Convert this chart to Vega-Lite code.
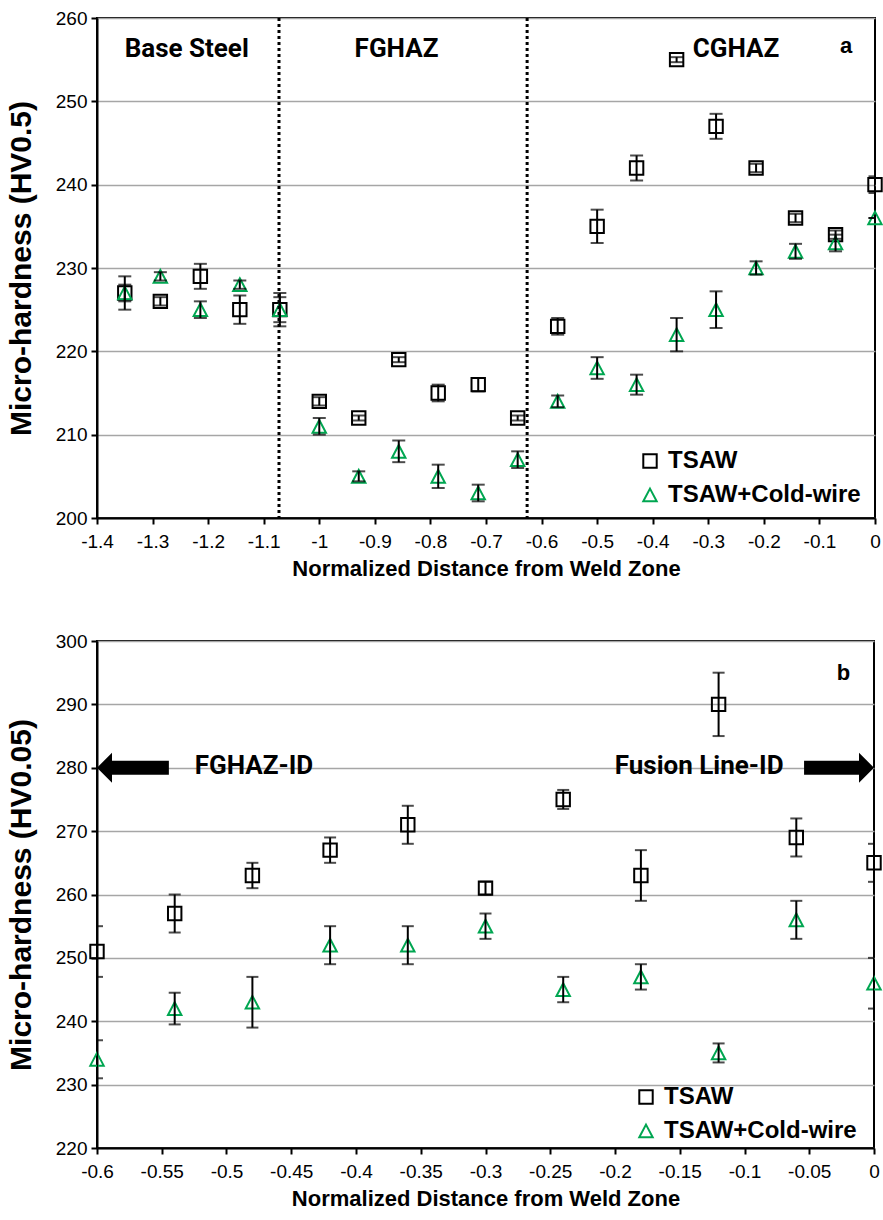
{
  "$schema": "https://vega.github.io/schema/vega-lite/v6.json",
  "background": "white",
  "padding": {"left": 5, "top": 8, "right": 5, "bottom": 5},
  "bounds": "flush",
  "spacing": 123,
  "config": {
    "font": "Liberation Sans",
    "view": {"stroke": "black", "strokeWidth": 2},
    "axis": {
      "domainColor": "black", "domainWidth": 2,
      "tickColor": "black", "tickWidth": 2, "tickSize": 6,
      "labelFont": "Liberation Sans", "labelFontSize": 19, "labelColor": "black", "labelPadding": 4,
      "titleFont": "Liberation Sans", "titleFontSize": 22, "titleFontWeight": "bold", "titleColor": "black",
      "gridColor": "#a6a6a6", "gridWidth": 1.5,
      "labelOverlap": false, "labelFlush": false
    },
    "axisX": {"grid": false, "labelPadding": 8, "titlePadding": 7},
    "axisY": {"grid": true, "titlePadding": 19, "titleFontSize": 30},
    "legend": {
      "orient": "none", "title": null, "padding": 0, "labelLimit": 0,
      "labelFont": "Liberation Sans", "labelFontSize": 24, "labelFontWeight": "bold", "labelColor": "black",
      "labelOffset": 6, "symbolStrokeWidth": 2, "symbolSize": 180, "rowPadding": 10
    }
  },
  "datasets": {
    "top": [
      {"distance": -1.35, "hardness": 227, "err": 2, "series": "TSAW"},
      {"distance": -1.286, "hardness": 226, "err": 0.5, "series": "TSAW"},
      {"distance": -1.214, "hardness": 229, "err": 1.5, "series": "TSAW"},
      {"distance": -1.143, "hardness": 225, "err": 1.7, "series": "TSAW"},
      {"distance": -1.071, "hardness": 225, "err": 2, "series": "TSAW"},
      {"distance": -1.0, "hardness": 214, "err": 0.5, "series": "TSAW"},
      {"distance": -0.929, "hardness": 212, "err": 0.3, "series": "TSAW"},
      {"distance": -0.857, "hardness": 219, "err": 0.3, "series": "TSAW"},
      {"distance": -0.786, "hardness": 215, "err": 1, "series": "TSAW"},
      {"distance": -0.714, "hardness": 216, "err": 0.8, "series": "TSAW"},
      {"distance": -0.643, "hardness": 212, "err": 0.3, "series": "TSAW"},
      {"distance": -0.571, "hardness": 223, "err": 1, "series": "TSAW"},
      {"distance": -0.5, "hardness": 235, "err": 2, "series": "TSAW"},
      {"distance": -0.429, "hardness": 242, "err": 1.5, "series": "TSAW"},
      {"distance": -0.357, "hardness": 255, "err": 0.3, "series": "TSAW"},
      {"distance": -0.286, "hardness": 247, "err": 1.5, "series": "TSAW"},
      {"distance": -0.214, "hardness": 242, "err": 0.5, "series": "TSAW"},
      {"distance": -0.143, "hardness": 236, "err": 0.5, "series": "TSAW"},
      {"distance": -0.071, "hardness": 234, "err": 0.5, "series": "TSAW"},
      {"distance": 0, "hardness": 240, "err": 1, "series": "TSAW"},
      {"distance": -1.35, "hardness": 227, "err": 1, "series": "TSAW+Cold-wire"},
      {"distance": -1.286, "hardness": 229, "err": 0.5, "series": "TSAW+Cold-wire"},
      {"distance": -1.214, "hardness": 225, "err": 1, "series": "TSAW+Cold-wire"},
      {"distance": -1.143, "hardness": 228, "err": 0.5, "series": "TSAW+Cold-wire"},
      {"distance": -1.071, "hardness": 225, "err": 1.5, "series": "TSAW+Cold-wire"},
      {"distance": -1.0, "hardness": 211, "err": 1, "series": "TSAW+Cold-wire"},
      {"distance": -0.929, "hardness": 205, "err": 0.6, "series": "TSAW+Cold-wire"},
      {"distance": -0.857, "hardness": 208, "err": 1.3, "series": "TSAW+Cold-wire"},
      {"distance": -0.786, "hardness": 205, "err": 1.4, "series": "TSAW+Cold-wire"},
      {"distance": -0.714, "hardness": 203, "err": 1, "series": "TSAW+Cold-wire"},
      {"distance": -0.643, "hardness": 207, "err": 1, "series": "TSAW+Cold-wire"},
      {"distance": -0.571, "hardness": 214, "err": 0.7, "series": "TSAW+Cold-wire"},
      {"distance": -0.5, "hardness": 218, "err": 1.3, "series": "TSAW+Cold-wire"},
      {"distance": -0.429, "hardness": 216, "err": 1.2, "series": "TSAW+Cold-wire"},
      {"distance": -0.357, "hardness": 222, "err": 2, "series": "TSAW+Cold-wire"},
      {"distance": -0.286, "hardness": 225, "err": 2.2, "series": "TSAW+Cold-wire"},
      {"distance": -0.214, "hardness": 230, "err": 0.8, "series": "TSAW+Cold-wire"},
      {"distance": -0.143, "hardness": 232, "err": 0.9, "series": "TSAW+Cold-wire"},
      {"distance": -0.071, "hardness": 233, "err": 1, "series": "TSAW+Cold-wire"},
      {"distance": 0, "hardness": 236, "err": 0, "series": "TSAW+Cold-wire"}
    ],
    "bottom": [
      {"distance": -0.6, "hardness": 251, "err": 4, "series": "TSAW"},
      {"distance": -0.54, "hardness": 257, "err": 3, "series": "TSAW"},
      {"distance": -0.48, "hardness": 263, "err": 2, "series": "TSAW"},
      {"distance": -0.42, "hardness": 267, "err": 2, "series": "TSAW"},
      {"distance": -0.36, "hardness": 271, "err": 3, "series": "TSAW"},
      {"distance": -0.3, "hardness": 261, "err": 1, "series": "TSAW"},
      {"distance": -0.24, "hardness": 275, "err": 1.5, "series": "TSAW"},
      {"distance": -0.18, "hardness": 263, "err": 4, "series": "TSAW"},
      {"distance": -0.12, "hardness": 290, "err": 5, "series": "TSAW"},
      {"distance": -0.06, "hardness": 269, "err": 3, "series": "TSAW"},
      {"distance": 0, "hardness": 265, "err": 3, "series": "TSAW"},
      {"distance": -0.6, "hardness": 234, "err": 3, "series": "TSAW+Cold-wire"},
      {"distance": -0.54, "hardness": 242, "err": 2.5, "series": "TSAW+Cold-wire"},
      {"distance": -0.48, "hardness": 243, "err": 4, "series": "TSAW+Cold-wire"},
      {"distance": -0.42, "hardness": 252, "err": 3, "series": "TSAW+Cold-wire"},
      {"distance": -0.36, "hardness": 252, "err": 3, "series": "TSAW+Cold-wire"},
      {"distance": -0.3, "hardness": 255, "err": 2, "series": "TSAW+Cold-wire"},
      {"distance": -0.24, "hardness": 245, "err": 2, "series": "TSAW+Cold-wire"},
      {"distance": -0.18, "hardness": 247, "err": 2, "series": "TSAW+Cold-wire"},
      {"distance": -0.12, "hardness": 235, "err": 1.5, "series": "TSAW+Cold-wire"},
      {"distance": -0.06, "hardness": 256, "err": 3, "series": "TSAW+Cold-wire"},
      {"distance": 0, "hardness": 246, "err": 4, "series": "TSAW+Cold-wire"}
    ],
    "zones": [{"distance": -1.0725}, {"distance": -0.626}],
    "topLabels": [
      {"distance": -1.2386, "hardness": 256.3, "label": "Base Steel"},
      {"distance": -0.861, "hardness": 256.3, "label": "FGHAZ"},
      {"distance": -0.25, "hardness": 256.3, "label": "CGHAZ"}
    ],
    "topTag": [{"distance": -0.052, "hardness": 256.6, "label": "a"}],
    "bottomLabels": [
      {"distance": -0.4788, "hardness": 280.2, "label": "FGHAZ-ID"},
      {"distance": -0.135, "hardness": 280.2, "label": "Fusion Line-ID"}
    ],
    "bottomTag": [{"distance": -0.0236, "hardness": 294.9, "label": "b"}],
    "arrowBodies": [
      {"distance": -0.594, "distance2": -0.5445, "hardness": 280},
      {"distance": -0.054, "distance2": -0.006, "hardness": 280}
    ],
    "leftHead": [{"distance": -0.5942, "hardness": 280}],
    "rightHead": [{"distance": -0.0058, "hardness": 280}]
  },
  "vconcat": [
    {
      "width": 778,
      "height": 500,
      "layer": [
        {
          "data": {"name": "top"},
          "mark": {"type": "point", "filled": false, "strokeWidth": 2, "size": 180, "opacity": 1},
          "encoding": {
            "x": {"field": "distance", "type": "quantitative", "title": "Normalized Distance from Weld Zone",
              "scale": {"domain": [-1.4, 0], "nice": false, "zero": false},
              "axis": {"values": [-1.4, -1.3, -1.2, -1.1, -1.0, -0.9, -0.8, -0.7, -0.6, -0.5, -0.4, -0.3, -0.2, -0.1, 0], "labelExpr": "'' + datum.value"}},
            "y": {"field": "hardness", "type": "quantitative", "title": "Micro-hardness (HV0.5)",
              "scale": {"domain": [200, 260], "nice": false, "zero": false},
              "axis": {"values": [200, 210, 220, 230, 240, 250, 260]}},
            "color": {"field": "series", "type": "nominal",
              "scale": {"domain": ["TSAW", "TSAW+Cold-wire"], "range": ["black", "#00A651"]},
              "legend": {"legendX": 541, "legendY": 431}},
            "shape": {"field": "series", "type": "nominal",
              "scale": {"domain": ["TSAW", "TSAW+Cold-wire"], "range": ["square", "M0,-0.95L1,0.95L-1,0.95Z"]},
              "legend": {"legendX": 541, "legendY": 431}}
          }
        },
        {
          "data": {"name": "top"},
          "mark": {"type": "errorbar", "color": "black", "clip": true,
            "ticks": {"size": 13, "thickness": 2, "color": "black"},
            "rule": {"strokeWidth": 2, "color": "black"}},
          "encoding": {
            "x": {"field": "distance", "type": "quantitative", "title": "Normalized Distance from Weld Zone"},
            "y": {"field": "hardness", "type": "quantitative", "title": "Micro-hardness (HV0.5)"},
            "yError": {"field": "err"}
          }
        },
        {
          "data": {"name": "zones"},
          "mark": {"type": "rule", "color": "black", "strokeWidth": 3, "strokeDash": [3, 3]},
          "encoding": {
            "x": {"field": "distance", "type": "quantitative", "title": "Normalized Distance from Weld Zone"}
          }
        },
        {
          "data": {"name": "topLabels"},
          "mark": {"type": "text", "font": "Roboto", "fontSize": 26, "fontWeight": "bold", "color": "black", "align": "center", "baseline": "middle"},
          "encoding": {
            "x": {"field": "distance", "type": "quantitative", "title": "Normalized Distance from Weld Zone"},
            "y": {"field": "hardness", "type": "quantitative", "title": "Micro-hardness (HV0.5)"},
            "text": {"field": "label"}
          }
        },
        {
          "data": {"name": "topTag"},
          "mark": {"type": "text", "font": "Liberation Sans", "fontSize": 22, "fontWeight": "bold", "color": "black", "align": "center", "baseline": "middle"},
          "encoding": {
            "x": {"field": "distance", "type": "quantitative", "title": "Normalized Distance from Weld Zone"},
            "y": {"field": "hardness", "type": "quantitative", "title": "Micro-hardness (HV0.5)"},
            "text": {"field": "label"}
          }
        }
      ]
    },
    {
      "width": 777,
      "height": 507,
      "layer": [
        {
          "data": {"name": "bottom"},
          "mark": {"type": "point", "filled": false, "strokeWidth": 2, "size": 180, "opacity": 1},
          "encoding": {
            "x": {"field": "distance", "type": "quantitative", "title": "Normalized Distance from Weld Zone",
              "scale": {"domain": [-0.6, 0], "nice": false, "zero": false},
              "axis": {"values": [-0.6, -0.55, -0.5, -0.45, -0.4, -0.35, -0.3, -0.25, -0.2, -0.15, -0.1, -0.05, 0], "labelExpr": "'' + datum.value"}},
            "y": {"field": "hardness", "type": "quantitative", "title": "Micro-hardness (HV0.05)",
              "scale": {"domain": [220, 300], "nice": false, "zero": false},
              "axis": {"values": [220, 230, 240, 250, 260, 270, 280, 290, 300]}},
            "color": {"field": "series", "type": "nominal",
              "scale": {"domain": ["TSAW", "TSAW+Cold-wire"], "range": ["black", "#00A651"]},
              "legend": {"legendX": 537, "legendY": 444}},
            "shape": {"field": "series", "type": "nominal",
              "scale": {"domain": ["TSAW", "TSAW+Cold-wire"], "range": ["square", "M0,-0.95L1,0.95L-1,0.95Z"]},
              "legend": {"legendX": 537, "legendY": 444}}
          }
        },
        {
          "data": {"name": "bottom"},
          "mark": {"type": "errorbar", "color": "black", "clip": true,
            "ticks": {"size": 12, "thickness": 2, "color": "black"},
            "rule": {"strokeWidth": 2, "color": "black"}},
          "encoding": {
            "x": {"field": "distance", "type": "quantitative", "title": "Normalized Distance from Weld Zone"},
            "y": {"field": "hardness", "type": "quantitative", "title": "Micro-hardness (HV0.05)"},
            "yError": {"field": "err"}
          }
        },
        {
          "data": {"name": "arrowBodies"},
          "mark": {"type": "rule", "color": "black", "strokeWidth": 14, "strokeCap": "butt"},
          "encoding": {
            "x": {"field": "distance", "type": "quantitative", "title": "Normalized Distance from Weld Zone"},
            "x2": {"field": "distance2"},
            "y": {"field": "hardness", "type": "quantitative", "title": "Micro-hardness (HV0.05)"}
          }
        },
        {
          "data": {"name": "leftHead"},
          "mark": {"type": "point", "filled": true, "color": "black", "opacity": 1, "size": 900, "shape": "M-0.5,0L0.5,-1L0.5,1Z"},
          "encoding": {
            "x": {"field": "distance", "type": "quantitative", "title": "Normalized Distance from Weld Zone"},
            "y": {"field": "hardness", "type": "quantitative", "title": "Micro-hardness (HV0.05)"}
          }
        },
        {
          "data": {"name": "rightHead"},
          "mark": {"type": "point", "filled": true, "color": "black", "opacity": 1, "size": 900, "shape": "M0.5,0L-0.5,-1L-0.5,1Z"},
          "encoding": {
            "x": {"field": "distance", "type": "quantitative", "title": "Normalized Distance from Weld Zone"},
            "y": {"field": "hardness", "type": "quantitative", "title": "Micro-hardness (HV0.05)"}
          }
        },
        {
          "data": {"name": "bottomLabels"},
          "mark": {"type": "text", "font": "Roboto", "fontSize": 26, "fontWeight": "bold", "color": "black", "align": "center", "baseline": "middle"},
          "encoding": {
            "x": {"field": "distance", "type": "quantitative", "title": "Normalized Distance from Weld Zone"},
            "y": {"field": "hardness", "type": "quantitative", "title": "Micro-hardness (HV0.05)"},
            "text": {"field": "label"}
          }
        },
        {
          "data": {"name": "bottomTag"},
          "mark": {"type": "text", "font": "Liberation Sans", "fontSize": 22, "fontWeight": "bold", "color": "black", "align": "center", "baseline": "middle"},
          "encoding": {
            "x": {"field": "distance", "type": "quantitative", "title": "Normalized Distance from Weld Zone"},
            "y": {"field": "hardness", "type": "quantitative", "title": "Micro-hardness (HV0.05)"},
            "text": {"field": "label"}
          }
        }
      ]
    }
  ],
  "resolve": {
    "scale": {"x": "independent", "y": "independent", "color": "independent", "shape": "independent"},
    "legend": {"color": "independent", "shape": "independent"}
  }
}
